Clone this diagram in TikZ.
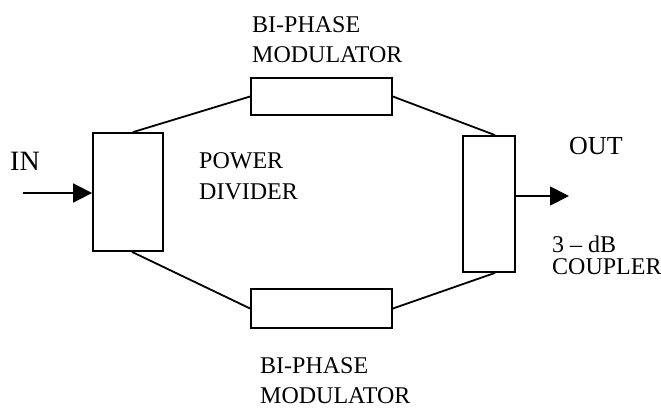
\documentclass[tikz,border=0pt]{standalone}
\usepackage{fontspec}
\setmainfont{Liberation Serif}
\usetikzlibrary{arrows.meta}
\begin{document}
\begin{tikzpicture}[x=1pt,y=-1pt,
  blk/.style={draw, line width=1.8pt, inner sep=0pt, minimum width=#1},
  lnk/.style={line width=1.8pt},
  arr/.style={line width=1.8pt, -{Triangle[length=19pt,width=19pt]}},
  lbl/.style={inner sep=0pt, anchor=north west, align=left, font=\fontsize{24}{30}\selectfont}
]
\useasboundingbox (0,0) rectangle (661,410);
% blocks
\node[blk=70pt, minimum height=118pt] (div) at (128,192) {};
\node[blk=52pt, minimum height=136pt] (coup) at (489,204) {};
\node[blk=141pt, minimum height=37pt] (modt) at (321.5,96.5) {};
\node[blk=141pt, minimum height=39pt] (modb) at (321.5,308.5) {};
% connectors
\draw[lnk] ([xshift=5pt]div.north) -- (modt.west);
\draw[lnk] ([xshift=4pt]div.south) -- (modb.west);
\draw[lnk] (modt.east) -- ([xshift=6pt]coup.north);
\draw[lnk] (modb.east) -- ([xshift=6pt]coup.south);
\coordinate (inS) at (23,193);
\coordinate (outE) at (569,196);
\draw[arr] (inS) -- (div.west |- inS);
\draw[arr] (coup.east |- outE) -- (outE);
% labels
\node[lbl] (tmodlbl) at (252,16) {BI-PHASE\\MODULATOR};
\node[lbl] (bmodlbl) at (260,357) {BI-PHASE\\MODULATOR};
\node[lbl, font=\fontsize{24}{31}\selectfont] (divlbl) at (199,152) {POWER\\DIVIDER};
\node[lbl, font=\fontsize{28}{32}\selectfont] (inlbl) at (10,152) {IN};
\node[lbl, font=\fontsize{26}{30}\selectfont] (outlbl) at (569,137) {OUT};
\node[lbl, font=\fontsize{24}{22}\selectfont] (couplbl) at (552,236) {3 – dB\\COUPLER};
\end{tikzpicture}
\end{document}
